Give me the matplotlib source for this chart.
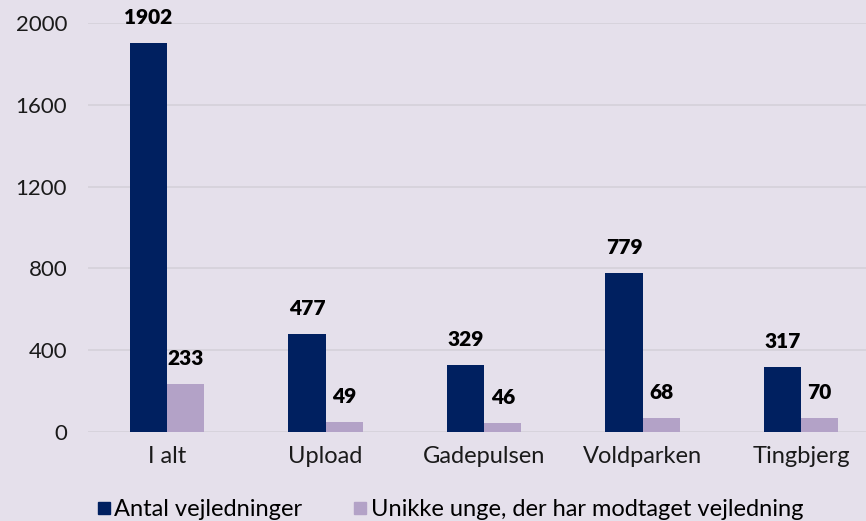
import matplotlib
matplotlib.use("Agg")
import matplotlib.pyplot as plt
import numpy as np
from matplotlib.lines import Line2D

categories = ["I alt", "Upload", "Gadepulsen", "Voldparken", "Tingbjerg"]
vejledninger = [1902, 477, 329, 779, 317]
unikke = [233, 49, 46, 68, 70]
series_names = ["Antal vejledninger", "Unikke unge, der har modtaget vejledning"]
yticks = [0, 400, 800, 1200, 1600, 2000]

BG = "#e5e0eb"
NAVY = "#002060"
LILAC = "#b3a2c7"

plt.rcParams["font.family"] = ["Lato", "DejaVu Sans"]

fig = plt.figure(figsize=(8.66, 5.21), dpi=100, facecolor=BG)
ax = fig.add_axes([0.1016, 0.171, 0.8984, 0.785], facecolor=BG)

x = np.arange(len(categories))
w = 0.235
b1 = ax.bar(x - w / 2, vejledninger, w, color=NAVY, zorder=3)
b2 = ax.bar(x + w / 2, unikke, w, color=LILAC, zorder=3)

for bars in (b1, b2):
    for rect in bars:
        ax.annotate(f"{int(rect.get_height())}",
                    (rect.get_x() + rect.get_width() / 2, rect.get_height()),
                    xytext=(0, 11.5), textcoords="offset points",
                    ha="center", va="bottom", fontsize=15, fontweight="heavy",
                    color="black", clip_on=False)

ax.set_xlim(-0.5, 4.41)
ax.set_ylim(0, 2000)
ax.set_yticks(yticks)
ax.set_xticks(x)
ax.set_xticklabels(categories)
ax.tick_params(axis="both", length=0, colors="#1a1a1a")
ax.tick_params(axis="y", pad=15, labelsize=16)
ax.tick_params(axis="x", pad=10, labelsize=17)
ax.grid(axis="y", color="#d5d1da", linewidth=1.2, zorder=0)
for s in ax.spines.values():
    s.set_visible(False)

handles = [Line2D([], [], marker="s", linestyle="none", markersize=8, color=NAVY),
           Line2D([], [], marker="s", linestyle="none", markersize=8, color=LILAC)]
fig.legend(handles, series_names, loc="center left", bbox_to_anchor=(0.113, 0.022),
           ncol=2, frameon=False, fontsize=17, handletextpad=0.2, borderpad=0,
           borderaxespad=0, columnspacing=2.2, handlelength=0.5)

fig.savefig("out.png", dpi=100, facecolor=BG)
